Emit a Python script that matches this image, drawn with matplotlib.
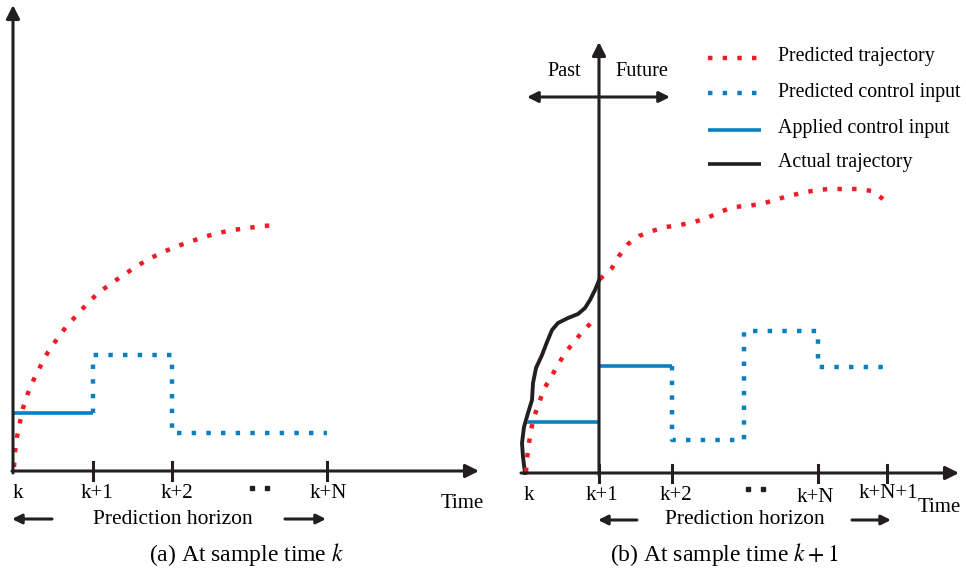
import numpy as np
from matplotlib import pyplot as plt

plt.rcParams['font.family'] = ['Liberation Serif', 'DejaVu Serif']
plt.rcParams['mathtext.fontset'] = 'stix'

# all coordinates in picture units (x to the right, y downward)
# panel (a): prediction at sample time k
pred_a_x = [14, 15, 17, 20, 23, 28, 34, 41, 48, 57, 66, 76, 86, 97, 109, 122,
            134, 147, 161, 175, 189, 204, 218, 233, 248, 263, 278]
pred_a_y = [467, 452, 437, 422, 408, 393, 379, 365, 352, 339, 327, 316, 305, 294,
            285, 276, 268, 260, 253, 247, 242, 237, 233, 230, 228, 226, 225]
applied_a_x = [14, 93]
applied_a_y = [413, 413]
ctrl_a_x = [93, 93, 172, 172, 327]
ctrl_a_y = [413, 355, 355, 433, 433]
ticks_a = [93, 172, 327]
labels_a = ["k", "k+1", "k+2", "k+N"]
labels_a_x = [18, 97, 177, 328]
dots_a_x = [252, 267]

# panel (b): prediction at sample time k+1
actual_b_x = [525, 523, 522, 524, 528, 532, 533, 536, 542, 547, 552, 558, 568,
              578, 585, 590, 595, 600]
actual_b_y = [473, 457, 443, 427, 413, 400, 383, 368, 355, 342, 330, 323, 318,
              314, 308, 300, 290, 278]
old_pred_b_x = [526, 527, 529, 531, 534, 539, 544, 551, 558, 565, 574, 583, 593]
old_pred_b_y = [472, 458, 443, 430, 417, 403, 389, 377, 365, 353, 342, 331, 321]
new_pred_b_x = [600, 612, 619, 628, 639, 652, 666, 680, 694, 707, 720, 733, 747,
                761, 775, 788, 802, 816, 830, 844, 858, 872, 883]
new_pred_b_y = [279, 268, 256, 244, 236, 231, 227, 225, 222, 218, 212, 207, 206,
                204, 200, 196, 193, 190, 189, 189, 189, 191, 199]
applied_b_x = [[527, 599], [599, 672]]
applied_b_y = [[422, 422], [366, 366]]
ctrl_b_x = [672, 672, 744, 744, 818, 818, 890]
ctrl_b_y = [366, 440, 440, 331, 331, 367, 367]
ticks_b = [599, 672, 818, 887]
labels_b = ["k", "k+1", "k+2", "k+N", "k+N+1"]
labels_b_x = [529, 602, 676, 815, 888]
labels_b_y = [495, 495, 495, 497, 493]
dots_b_x = [748, 763]

legend_labels = ["Predicted trajectory", "Predicted control input",
                 "Applied control input", "Actual trajectory"]
legend_y = [58, 93, 130, 164]

red = '#ee1c25'
blue = '#0a7fc0'
black = '#231f20'
dots = (0, (1, 2.3))

fig = plt.figure(figsize=(9.66, 5.74), dpi=100)
ax = fig.add_axes([0, 0, 1, 1])
ax.set_xlim(0, 966)
ax.set_ylim(574, 0)
ax.axis('off')


def arrow(x0, y0, x1, y1, lw=2.2, ms=20):
    ax.annotate('', xy=(x1, y1), xytext=(x0, y0),
                arrowprops=dict(arrowstyle='-|>', color=black, lw=lw,
                                mutation_scale=ms, shrinkA=0, shrinkB=0))


fs = 15
dot_lw = 3.2

# ---- panel (a)
arrow(13, 473, 13, 5)
arrow(12, 471, 479, 471)
for t in ticks_a:
    ax.plot([t, t], [462, 480], color=black, lw=2.2)
ax.plot(pred_a_x, pred_a_y, color=red, lw=dot_lw, linestyle=dots)
ax.plot(applied_a_x, applied_a_y, color=blue, lw=2.6, solid_capstyle='butt')
ax.plot(ctrl_a_x, ctrl_a_y, color=blue, lw=dot_lw, linestyle=dots)
for lab, x in zip(labels_a, labels_a_x):
    ax.text(x, 493, lab, fontsize=fs, ha='center', va='center')
ax.plot(dots_a_x, [488, 488], linestyle='None', marker='s', ms=3.2, color=black)
ax.text(462, 503, "Time", fontsize=fs, ha='center', va='center')
arrow(52, 519, 12, 519, lw=2.2, ms=14)
arrow(285, 519, 326, 519, lw=2.2, ms=14)
ax.text(173, 519, "Prediction horizon", fontsize=15.5, ha='center', va='center')
ax.text(247, 555, r"(a) At sample time $k$", fontsize=17, ha='center', va='center')

# ---- panel (b)
arrow(599, 475, 599, 42)
arrow(521, 473, 959, 473)
for t in ticks_b:
    ax.plot([t, t], [465, 482], color=black, lw=2.2)
arrow(599, 97, 527, 97, lw=2.2, ms=16)
arrow(599, 97, 670, 97, lw=2.2, ms=16)
ax.text(564, 71, "Past", fontsize=14.6, ha='center', va='center')
ax.text(642, 71, "Future", fontsize=14.6, ha='center', va='center')
ax.plot(actual_b_x, actual_b_y, color=black, lw=2.8, solid_joinstyle='round')
ax.plot(old_pred_b_x, old_pred_b_y, color=red, lw=dot_lw, linestyle=dots)
ax.plot(new_pred_b_x, new_pred_b_y, color=red, lw=dot_lw, linestyle=dots)
for xs, ys in zip(applied_b_x, applied_b_y):
    ax.plot(xs, ys, color=blue, lw=2.6, solid_capstyle='butt')
ax.plot(ctrl_b_x, ctrl_b_y, color=blue, lw=dot_lw, linestyle=dots)
for lab, x, y in zip(labels_b, labels_b_x, labels_b_y):
    ax.text(x, y, lab, fontsize=fs, ha='center', va='center')
ax.plot(dots_b_x, [489, 489], linestyle='None', marker='s', ms=3.2, color=black)
ax.text(939, 507, "Time", fontsize=fs, ha='center', va='center')
arrow(637, 520, 598, 520, lw=2.2, ms=14)
arrow(852, 520, 891, 520, lw=2.2, ms=14)
ax.text(745, 520, "Prediction horizon", fontsize=15.5, ha='center', va='center')
ax.text(724, 555, r"(b) At sample time $k+1$", fontsize=17, ha='center', va='center')

# ---- legend
styles = [dict(color=red, lw=dot_lw, linestyle=dots),
          dict(color=blue, lw=dot_lw, linestyle=dots),
          dict(color=blue, lw=2.6, solid_capstyle='butt'),
          dict(color=black, lw=2.6, solid_capstyle='butt')]
for lab, y, st in zip(legend_labels, legend_y, styles):
    ax.plot([708, 761], [y, y], **st)
    ax.text(778, y - 1, lab, fontsize=14.3, ha='left', va='center')

fig.savefig("out.png", dpi=100)
